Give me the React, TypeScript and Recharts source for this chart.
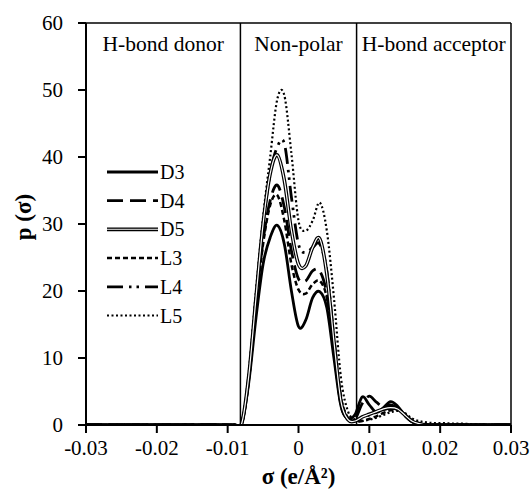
import { Label, Line, LineChart, ReferenceArea, ReferenceLine, XAxis, YAxis } from "recharts";

const font = "Liberation Serif, Times New Roman, DejaVu Serif, serif";

// σ grid (e/Å²)
const sigma = [
  -0.03, -0.029, -0.028, -0.027, -0.026, -0.025, -0.024, -0.023, -0.022, -0.021, -0.02,
  -0.019, -0.018, -0.017, -0.016, -0.015, -0.014, -0.013, -0.012, -0.011, -0.01,
  -0.009, -0.008, -0.007, -0.006, -0.005, -0.004, -0.003, -0.002, -0.001, 0,
  0.001, 0.002, 0.003, 0.004, 0.005, 0.006, 0.007, 0.008, 0.009, 0.01,
  0.011, 0.012, 0.013, 0.014, 0.015, 0.016, 0.017, 0.018, 0.019, 0.02,
  0.021, 0.022, 0.023, 0.024, 0.025, 0.026, 0.027, 0.028, 0.029, 0.03,
];

// p(σ) values, -0.030 .. 0.030
const Z22 = [0, 0, 0, 0, 0, 0, 0, 0, 0, 0, 0, 0, 0, 0, 0, 0, 0, 0, 0, 0, 0, 0];
const Z12 = [0, 0, 0, 0, 0, 0, 0, 0, 0, 0, 0, 0];

const d3 = [...Z22,
  0.3, 6.5, 16, 24, 28, 29.8, 27, 20, 14.7, 15.6, 19, 19.9, 17.5, 10, 2.8, 1.0, 1.6,
  4.2, 3.0, 1.9, 2.6, 3.5, 2.8, 1.5, 0.5, 0.1, 0, ...Z12];
const d4 = [...Z22,
  0.3, 7, 18, 27.5, 33.5, 35.8, 32.5, 26, 21.8, 21.5, 23, 23, 19.5, 11, 3, 0.8, 0.9,
  3.2, 4.3, 3.4, 2.7, 3.0, 2.5, 1.4, 0.5, 0.1, 0, ...Z12];
const d5 = [...Z22,
  0.3, 7.5, 19, 30, 37.5, 40.3, 36.5, 29, 24, 23.7, 26.5, 27.8, 22.5, 12.5, 3.5, 0.8, 0.6,
  1.2, 1.6, 2.0, 2.4, 2.6, 2.4, 1.5, 0.6, 0.2, 0, ...Z12];
const l3 = [...Z22,
  0.3, 7, 17.5, 27, 32.8, 34.3, 30.5, 24, 20.2, 19.6, 21, 21.5, 19, 11.5, 4, 1, 0.5,
  0.6, 0.9, 1.3, 1.8, 2.2, 2.3, 1.6, 0.7, 0.3, 0.1, ...Z12];
const l4 = [...Z22,
  0.3, 7.5, 19, 30, 37.5, 41.5, 42, 34, 27, 25.7, 26.5, 27, 23, 13, 4, 1, 0.7,
  1.1, 1.5, 1.9, 2.3, 2.5, 2.3, 1.5, 0.6, 0.2, 0, ...Z12];
const l5 = [...Z22,
  0.3, 8, 20, 31, 40, 48.6, 49.2, 40.5, 30.5, 29, 30.5, 33.2, 29, 19, 7, 2, 0.8,
  0.6, 0.8, 1.1, 1.5, 1.9, 2.1, 1.8, 1.0, 0.6, 0.4,
  0.3, 0.3, 0.25, 0.2, 0.2, 0.15, 0.1, 0, 0, 0, 0, 0];

const xTicks = [-0.03, -0.02, -0.01, 0, 0.01, 0.02, 0.03];
const xTickLabels = ["-0.03", "-0.02", "-0.01", "0", "0.01", "0.02", "0.03"];
const yTicks = [0, 10, 20, 30, 40, 50, 60];
const regionBounds = [-0.0082, 0.0082];
const regionNames = ["H-bond donor", "Non-polar", "H-bond acceptor"];

const rows = sigma.map((s, i) => ({
  sigma: s, D3: d3[i], D4: d4[i], D5: d5[i], L3: l3[i], L4: l4[i], L5: l5[i],
}));

type SeriesStyle = { key: string; width: number; dash?: string; inner?: boolean };
const series: SeriesStyle[] = [
  { key: "D3", width: 2.8 },
  { key: "D4", width: 2.8, dash: "16 7" },
  { key: "D5", width: 3.6, inner: true },
  { key: "L3", width: 2.5, dash: "5 3" },
  { key: "L4", width: 2.8, dash: "16 6 2.5 5 2.5 6" },
  { key: "L5", width: 2.2, dash: "2 2.5" },
];

// Excel-like smoothed line (Catmull-Rom through the points)
function smoothCurve(context: any) {
  let pts: number[][] = [];
  return {
    areaStart() {},
    areaEnd() {},
    lineStart() { pts = []; },
    point(x: number, y: number) { pts.push([+x, +y]); },
    lineEnd() {
      const n = pts.length;
      if (!n) return;
      context.moveTo(pts[0][0], pts[0][1]);
      for (let i = 0; i < n - 1; i++) {
        const p0 = pts[Math.max(i - 1, 0)];
        const p1 = pts[i];
        const p2 = pts[i + 1];
        const p3 = pts[Math.min(i + 2, n - 1)];
        context.bezierCurveTo(
          p1[0] + (p2[0] - p0[0]) / 6, p1[1] + (p2[1] - p0[1]) / 6,
          p2[0] - (p3[0] - p1[0]) / 6, p2[1] - (p3[1] - p1[1]) / 6,
          p2[0], p2[1],
        );
      }
    },
  };
}

function LegendBox() {
  return (
    <svg width={110} height={180} style={{ position: "absolute", left: 100, top: 155 }}>
      {series.map((s, i) => {
        const y = 17 + i * 28.7;
        return (
          <g key={s.key}>
            <line x1={7} x2={58} y1={y} y2={y} stroke="#000" strokeWidth={s.width} strokeDasharray={s.dash} />
            {s.inner && <line x1={7} x2={58} y1={y} y2={y} stroke="#bbb" strokeWidth={1.4} />}
            <text x={60} y={y + 7} style={{ fontFamily: font, fontSize: 20 }} fill="#000">{s.key}</text>
          </g>
        );
      })}
    </svg>
  );
}

export default function App() {
  const edges = [-0.03, ...regionBounds, 0.03];
  return (
    <div style={{ position: "absolute", left: 0, top: 0, width: 532, height: 496, background: "#fff", fontFamily: font }}>
      <LineChart width={532} height={496} data={rows} margin={{ top: 23, right: 21, bottom: 31, left: 0 }} style={{ fontFamily: font }}>
        {regionNames.map((name, i) => (
          <ReferenceArea
            key={name}
            x1={edges[i]}
            x2={edges[i + 1]}
            y1={0}
            y2={60}
            fill="none"
            fillOpacity={0}
            label={{ value: name, position: "insideTop", offset: 13, fill: "#000", fontSize: 21.5, style: { fontFamily: font } }}
          />
        ))}
        <XAxis
          type="number"
          dataKey="sigma"
          domain={[-0.03, 0.03]}
          ticks={xTicks}
          tickFormatter={(_v: number, i: number) => xTickLabels[i]}
          height={40}
          tickSize={8}
          tickMargin={7}
          axisLine={{ stroke: "#000", strokeWidth: 2 }}
          tickLine={{ stroke: "#000", strokeWidth: 2 }}
          tick={{ fill: "#000", fontSize: 21, style: { fontFamily: font } }}
          allowDataOverflow
        >
          <Label
            content={({ viewBox }: any) => (
              <text x={viewBox.x + viewBox.width / 2} y={484} textAnchor="middle" style={{ fontFamily: font, fontSize: 23, fontWeight: "bold" }} fill="#000">
                σ (e/Å²)
              </text>
            )}
          />
        </XAxis>
        <YAxis
          type="number"
          domain={[0, 60]}
          ticks={yTicks}
          width={86}
          tickSize={8}
          tickMargin={15}
          axisLine={{ stroke: "#000", strokeWidth: 2 }}
          tickLine={{ stroke: "#000", strokeWidth: 2 }}
          tick={{ fill: "#000", fontSize: 21, style: { fontFamily: font } }}
          allowDataOverflow
        >
          <Label
            content={({ viewBox }: any) => {
              const cy = viewBox.y + viewBox.height / 2 - 7;
              return (
                <text x={31} y={cy} transform={`rotate(-90 31 ${cy})`} textAnchor="middle" style={{ fontFamily: font, fontSize: 23, fontWeight: "bold" }} fill="#000">
                  p (σ)
                </text>
              );
            }}
          />
        </YAxis>
        <ReferenceLine y={60} stroke="#000" strokeWidth={1.5} />
        <ReferenceLine x={0.03} stroke="#000" strokeWidth={1.5} />
        {regionBounds.map((b) => (
          <ReferenceLine key={b} x={b} stroke="#000" strokeWidth={1.5} />
        ))}
        {series.map((s) => (
          <Line
            key={s.key}
            dataKey={s.key}
            type={smoothCurve as any}
            stroke="#000"
            strokeWidth={s.width}
            strokeDasharray={s.dash}
            dot={false}
            activeDot={false}
            isAnimationActive={false}
          />
        ))}
        <Line
          dataKey="D5"
          type={smoothCurve as any}
          stroke="#fff"
          strokeWidth={1.2}
          dot={false}
          activeDot={false}
          isAnimationActive={false}
        />
      </LineChart>
      <LegendBox />
    </div>
  );
}
